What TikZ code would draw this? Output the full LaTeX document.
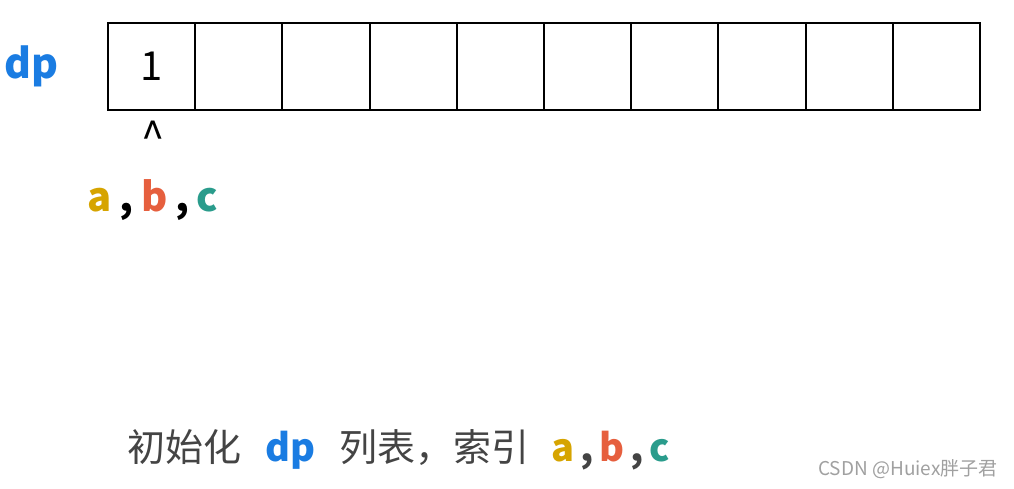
\documentclass[tikz,border=0pt]{standalone}
\usepackage{fontspec}
\setmainfont{Noto Sans CJK SC}
\usepackage{tikz}
\usetikzlibrary{positioning}
\definecolor{dpblue}{HTML}{1A7CE2}
\definecolor{agold}{HTML}{D6A400}
\definecolor{bred}{HTML}{E65F3E}
\definecolor{cteal}{HTML}{2A9C8C}
\definecolor{txtgrey}{HTML}{444444}
\definecolor{markgrey}{HTML}{A0A0A0}
\newcommand{\idx}[1]{\textcolor{agold}{a}\hspace{#1},\hspace{#1}\textcolor{bred}{b}\hspace{#1},\hspace{#1}\textcolor{cteal}{c}}
\tikzset{
	x=1pt,y=-1pt,
	cell/.style={rectangle,draw=black,line width=2pt,minimum width=87.2pt,minimum height=87pt,inner sep=0pt,outer sep=0pt,font=\fontsize{40}{40}\selectfont},
	dplabel/.style={inner sep=0pt,text=dpblue,font=\bfseries\fontsize{41}{41}\selectfont},
	ptr/.style={inner sep=0pt,font=\fontsize{42}{42}\selectfont},
	abc/.style={inner sep=0pt,font=\bfseries\fontsize{40}{40}\selectfont},
	caption/.style={inner sep=0pt,text=txtgrey,font=\fontsize{38}{38}\selectfont},
	wmark/.style={inner sep=0pt,text=markgrey,font=\fontsize{19}{19}\selectfont}
}
\begin{document}
\begin{tikzpicture}
\useasboundingbox (0,0) rectangle (1014,489);
\node[cell] (c0) at (151.6,66.5) {1};
\foreach \i [count=\j from 0] in {1,...,9}
  \node[cell,right=0pt of c\j] (c\i) {};
\node[dplabel] (dp) at (31,66) {dp};
\node[ptr] (up) at (153,137) {\^{}};
\node[abc] (ptrs) at (153,200) {\idx{0.19em}};
\node[caption] (cap) at (398.5,450) {初始化\hspace{24pt}\textcolor{dpblue}{\bfseries dp}\hspace{24pt}列表，索引\hspace{22pt}{\bfseries\idx{0.15em}}};
\node[wmark] (wm) at (908,469) {CSDN @Huiex胖子君};
\end{tikzpicture}
\end{document}
